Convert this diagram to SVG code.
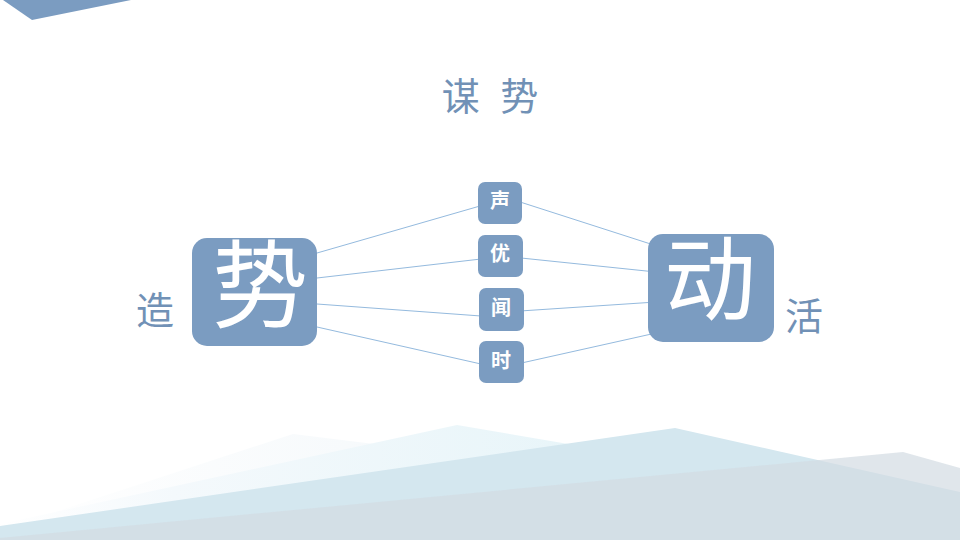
<svg xmlns="http://www.w3.org/2000/svg" width="960" height="540" viewBox="0 0 960 540">
<defs>
<style>
.box{fill:#7b9cc1;}
.big{font-family:"Noto Sans CJK SC","Noto Sans",sans-serif;fill:#ffffff;text-anchor:middle;}
.small{font-family:"Noto Sans CJK SC","Noto Sans",sans-serif;font-weight:bold;font-size:20px;fill:#ffffff;text-anchor:middle;}
.label{font-family:"Noto Sans CJK SC","Noto Sans",sans-serif;fill:#7191b6;text-anchor:middle;}
.conn{stroke:#94bade;stroke-width:1;fill:none;}
</style>
<linearGradient id="g1" x1="0" y1="0" x2="1" y2="0">
<stop offset="0" stop-color="#ffffff"/>
<stop offset="1" stop-color="#f2f7fa"/>
</linearGradient>
<linearGradient id="g2" x1="0" y1="0" x2="1" y2="0">
<stop offset="0" stop-color="#ffffff"/>
<stop offset="0.3" stop-color="#f4f9fc"/>
<stop offset="1" stop-color="#e8f5f9"/>
</linearGradient>
</defs>
<rect width="960" height="540" fill="#ffffff"/>
<polygon points="3,0 131,0 32,20" fill="#7b9cc1"/>
<g id="background-hills">
<polygon points="0,530 293,434 560,467 560,540 0,540" fill="url(#g1)"/>
<polygon points="0,524 457,425 580,446 580,540 0,540" fill="url(#g2)"/>
<polygon points="0,526 675,428 960,492 960,540 0,540" fill="#d4e7ef"/>
<polygon points="0,538 903,452 960,468 960,540 0,540" fill="#d3dbe2" opacity="0.7"/>
</g>
<g id="title"><text class="label" x="493" y="110" font-size="38" letter-spacing="6" xml:space="preserve">谋 势</text></g>
<g id="connectors">
<line class="conn" x1="317" y1="253" x2="480" y2="206"/>
<line class="conn" x1="317" y1="278" x2="481" y2="259"/>
<line class="conn" x1="317" y1="304" x2="481" y2="316"/>
<line class="conn" x1="317" y1="327" x2="481" y2="364"/>
<line class="conn" x1="517" y1="201" x2="660" y2="247"/>
<line class="conn" x1="521" y1="258" x2="656" y2="272"/>
<line class="conn" x1="520" y1="311" x2="656" y2="302"/>
<line class="conn" x1="517" y1="364" x2="656" y2="333"/>
</g>
<g id="node-shi-left">
<rect class="box" x="192" y="238" width="125" height="108" rx="15"/>
<text class="big" x="260" y="320" font-size="96">势</text>
</g>
<g id="node-dong">
<rect class="box" x="648" y="234" width="126" height="108" rx="15"/>
<text class="big" x="710" y="313" font-size="92">动</text>
</g>
<g id="node-sheng">
<rect class="box" x="478" y="182" width="44" height="42" rx="7"/>
<text class="small" x="500" y="208">声</text>
</g>
<g id="node-you">
<rect class="box" x="478" y="235" width="45" height="42" rx="7"/>
<text class="small" x="500" y="261">优</text>
</g>
<g id="node-wen">
<rect class="box" x="479" y="288" width="45" height="43" rx="7"/>
<text class="small" x="501" y="315">闻</text>
</g>
<g id="node-shi-time">
<rect class="box" x="479" y="341" width="45" height="42" rx="7"/>
<text class="small" x="501" y="368">时</text>
</g>
<g id="label-zao"><text class="label" x="155" y="324" font-size="38">造</text></g>
<g id="label-huo"><text class="label" x="804" y="330" font-size="38">活</text></g>
</svg>
